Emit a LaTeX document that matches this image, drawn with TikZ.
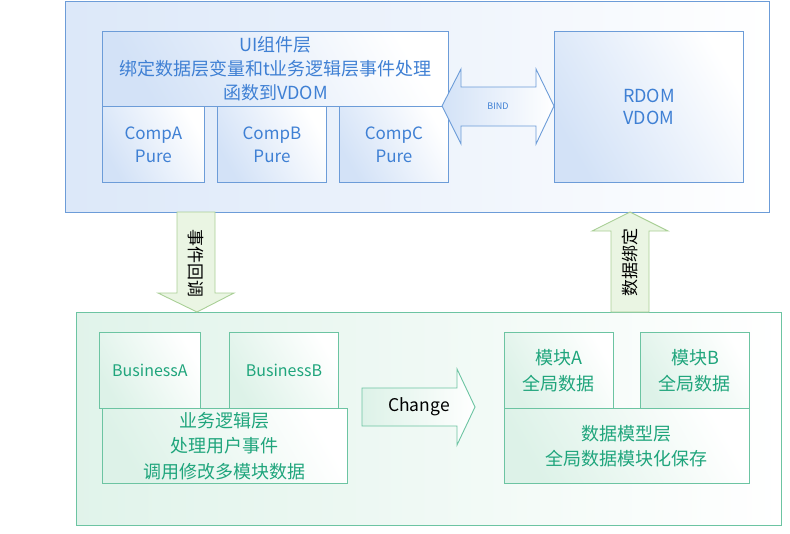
\documentclass[tikz,border=0pt]{standalone}
\usepackage{fontspec}
\setmainfont{Noto Sans CJK SC}
\definecolor{bborder}{HTML}{6C9CD8}
\definecolor{btext}{HTML}{3F80D4}
\definecolor{bfill}{HTML}{D3E2F7}
\definecolor{gborder}{HTML}{6CC4A2}
\definecolor{gtext}{HTML}{1FA57C}
\definecolor{gfill}{HTML}{DDF2E8}
\definecolor{aborder}{HTML}{A9CF96}
\definecolor{afill}{HTML}{EAF5E3}
\begin{document}
\begin{tikzpicture}[x=1pt,y=-1pt,
  bluebox/.style={draw=bborder, line width=0.9pt, left color=bfill, right color=white, shading angle=120, inner sep=0pt, anchor=north west, text=btext, align=center},
  greenbox/.style={draw=gborder, line width=0.9pt, left color=gfill, right color=white, shading angle=120, inner sep=0pt, anchor=north west, text=gtext, align=center},
  cjk/.style={font=\fontsize{18}{24}\selectfont},
  lat/.style={font=\fontsize{17}{23}\selectfont}]
\useasboundingbox (0,0) rectangle (790,533);
% outer boxes
\node[bluebox, minimum width=704pt, minimum height=211pt, left color=bfill!80, right color=white] (top) at (65,1) {};
\node[greenbox, minimum width=705pt, minimum height=213pt, left color=gfill!90, right color=white] (bot) at (76,312) {};
% UI layer
\node[bluebox, minimum width=346pt, minimum height=75pt, cjk] (ui) at (102,31) {UI组件层\\绑定数据层变量和t业务逻辑层事件处理\\函数到VDOM};
\node[bluebox, minimum width=102pt, minimum height=76pt, lat] (ca) at (102,106) {CompA\\Pure};
\node[bluebox, minimum width=109pt, minimum height=76pt, lat] (cb) at (217,106) {CompB\\Pure};
\node[bluebox, minimum width=109pt, minimum height=76pt, lat] (cc) at (339,106) {CompC\\Pure};
\node[bluebox, minimum width=189pt, minimum height=151pt, font=\fontsize{18}{22}\selectfont] (rdom) at (554,31) {RDOM\\VDOM};
% BIND double arrow
\coordinate (bl) at (442,106);
\coordinate (br) at (554,106);
\draw[draw=bborder, line width=0.9pt, left color=bfill, right color=white, shading angle=90]
  (bl) -- (461,69) -- (461,87) -- (536,87) -- (536,69) -- (br) -- (536,144) -- (536,126) -- (461,126) -- (461,144) -- cycle;
\node[text=btext, font=\fontsize{9}{10}\selectfont] (bind) at (498,106) {BIND};
% event callback down arrow
\coordinate (dtip) at (197,312);
\draw[draw=aborder, line width=0.9pt, fill=afill]
  (177,212) -- (215,212) -- (215,293) -- (234,293) -- (dtip) -- (158,293) -- (177,293) -- cycle;
\node[rotate=-90, font=\fontsize{17}{18}\selectfont] (evt) at (196,263) {事件回调};
% data binding up arrow
\coordinate (utip) at (630,212);
\draw[draw=aborder, line width=0.9pt, fill=afill]
  (611,312) -- (649,312) -- (649,231) -- (668,231) -- (utip) -- (592,231) -- (611,231) -- cycle;
\node[rotate=90, font=\fontsize{17}{18}\selectfont] (dbind) at (630,262) {数据绑定};
% business
\node[greenbox, minimum width=101pt, minimum height=76pt, font=\fontsize{16}{20}\selectfont] (ba) at (99,332) {BusinessA};
\node[greenbox, minimum width=109pt, minimum height=76pt, font=\fontsize{16}{20}\selectfont] (bb) at (229,332) {BusinessB};
\node[greenbox, minimum width=245pt, minimum height=75pt, font=\fontsize{18}{25.5}\selectfont] (biz) at (102,408) {业务逻辑层\\处理用户事件\\调用修改多模块数据};
% change arrow
\coordinate (ctip) at (475,407);
\draw[draw=gborder, line width=0.9pt, left color=gfill, right color=white]
  (362,388) -- (457,388) -- (457,369) -- (ctip) -- (457,445) -- (457,426) -- (362,426) -- cycle;
\node[font=\fontsize{17.5}{18}\selectfont] (chg) at (419,407) {Change};
% data model
\node[greenbox, minimum width=109pt, minimum height=76pt, font=\fontsize{18}{26}\selectfont] (ma) at (504,332) {模块A\\全局数据};
\node[greenbox, minimum width=109pt, minimum height=76pt, font=\fontsize{18}{26}\selectfont] (mb) at (640,332) {模块B\\全局数据};
\node[greenbox, minimum width=245pt, minimum height=75pt, font=\fontsize{18}{25.5}\selectfont] (dm) at (504,408) {数据模型层\\全局数据模块化保存};
\end{tikzpicture}
\end{document}
